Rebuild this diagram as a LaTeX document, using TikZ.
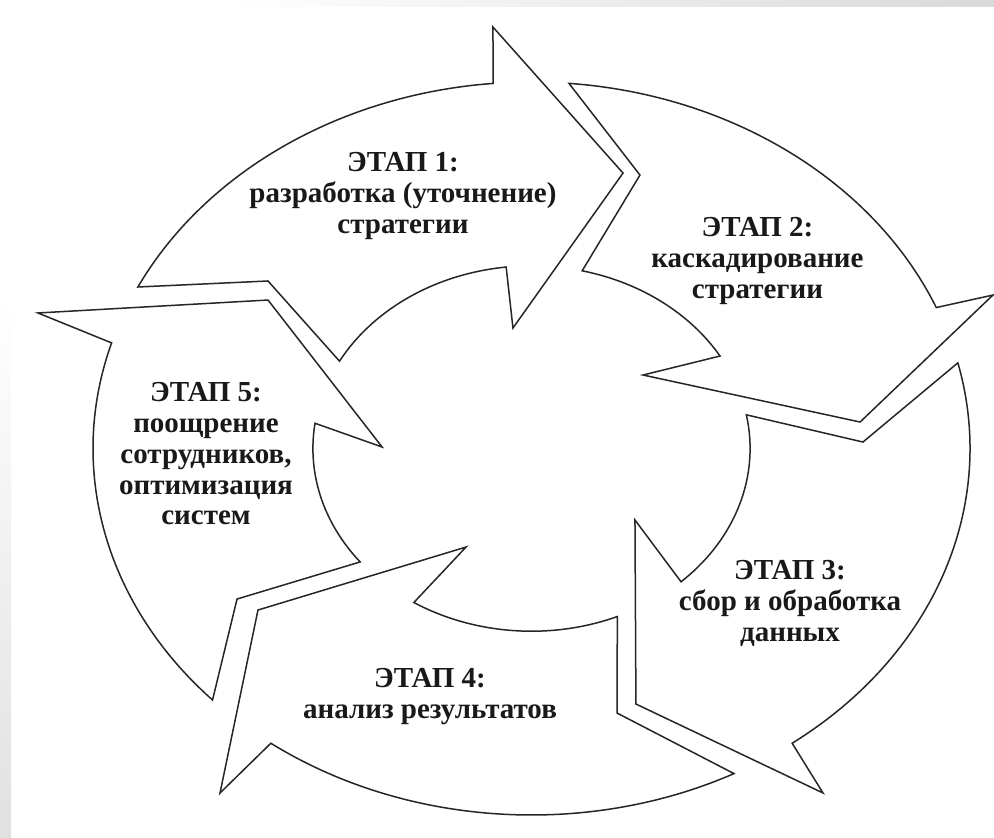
\documentclass[tikz,border=0pt]{standalone}
\usepackage{fontspec}
\setmainfont{Liberation Serif}
\begin{document}
\begin{tikzpicture}[x=0.5pt,y=0.5pt,
  arrowshape/.style={draw=black!85, line width=0.75pt, fill=white, line join=miter},
  stage/.style={font=\bfseries\fontsize{14.5}{15.4}\selectfont, align=center, text=black!90, inner sep=0pt, anchor=north}]
\useasboundingbox (0,0) rectangle (994,-837);
\fill[white] (0,0) rectangle (994,-837);
\shade[left color=white, right color=black!15] (230,0) rectangle (994,-6);
\shade[top color=white, bottom color=black!12] (0,-300) rectangle (11,-837);
\begin{scope}[shift={(531.5,-448.5)}, xscale=1.1965]
  \def\R{366.5}
  \def\ri{182.7}
  % arrow 1
  \draw[arrowshape] (153.85:\R) arc[start angle=153.85, end angle=95.03, radius=\R]
    -- (94.37:422.7) -- (74.48:285.9) -- (97.33:121.5) -- (96.66:\ri)
    arc[start angle=96.66, end angle=151.44, radius=\ri] -- (142.74:276.7) -- cycle;
  % arrow 2
  \draw[arrowshape] (85.1:\R) arc[start angle=85.1, end angle=22.62, radius=\R]
    -- (21.7:415.1) -- (5.51:275.9) -- (38.26:118.7) -- (30.41:\ri)
    arc[start angle=30.41, end angle=76.6, radius=\ri] -- (71.66:288.1) -- cycle;
  % arrow 3
  \draw[arrowshape] (13.52:\R) arc[start angle=13.52, end angle=-53.53, radius=\R]
    -- (-54.73:421.9) -- (-71.14:270.0) -- (-39.58:112.2) -- (-46.84:\ri)
    arc[start angle=-46.84, end angle=10.63, radius=\ri] -- (1.34:277.1) -- cycle;
  % arrow 4
  \draw[arrowshape] (-62.5:\R) arc[start angle=-62.5, end angle=-126.47, radius=\R]
    -- (-127.08:431.8) -- (-144.76:279.9) -- (-119.05:112.7) -- (-122.56:\ri)
    arc[start angle=-122.56, end angle=-66.88, radius=\ri] -- (-74.88:274.0) -- cycle;
  % arrow 5
  \draw[arrowshape] (-136.67:\R) arc[start angle=-136.67, end angle=-196.75, radius=\R]
    -- (-198.19:434.2) -- (-213.99:265.6) -- (-180.69:124.9) -- (-187.95:\ri)
    arc[start angle=-187.95, end angle=-141.62, radius=\ri] -- (-148.55:288.5) -- cycle;
\end{scope}
\node[stage] (s1) at (403,-152) {ЭТАП 1:\\разработка (уточнение)\\стратегии};
\node[stage] (s2) at (757.5,-217) {ЭТАП 2:\\каскадирование\\стратегии};
\node[stage] (s3) at (790,-560) {ЭТАП 3:\\сбор и обработка\\данных};
\node[stage] (s4) at (430,-668) {ЭТАП 4:\\анализ результатов};
\node[stage] (s5) at (206,-382) {ЭТАП 5:\\поощрение\\сотрудников,\\оптимизация\\систем};
\end{tikzpicture}
\end{document}
